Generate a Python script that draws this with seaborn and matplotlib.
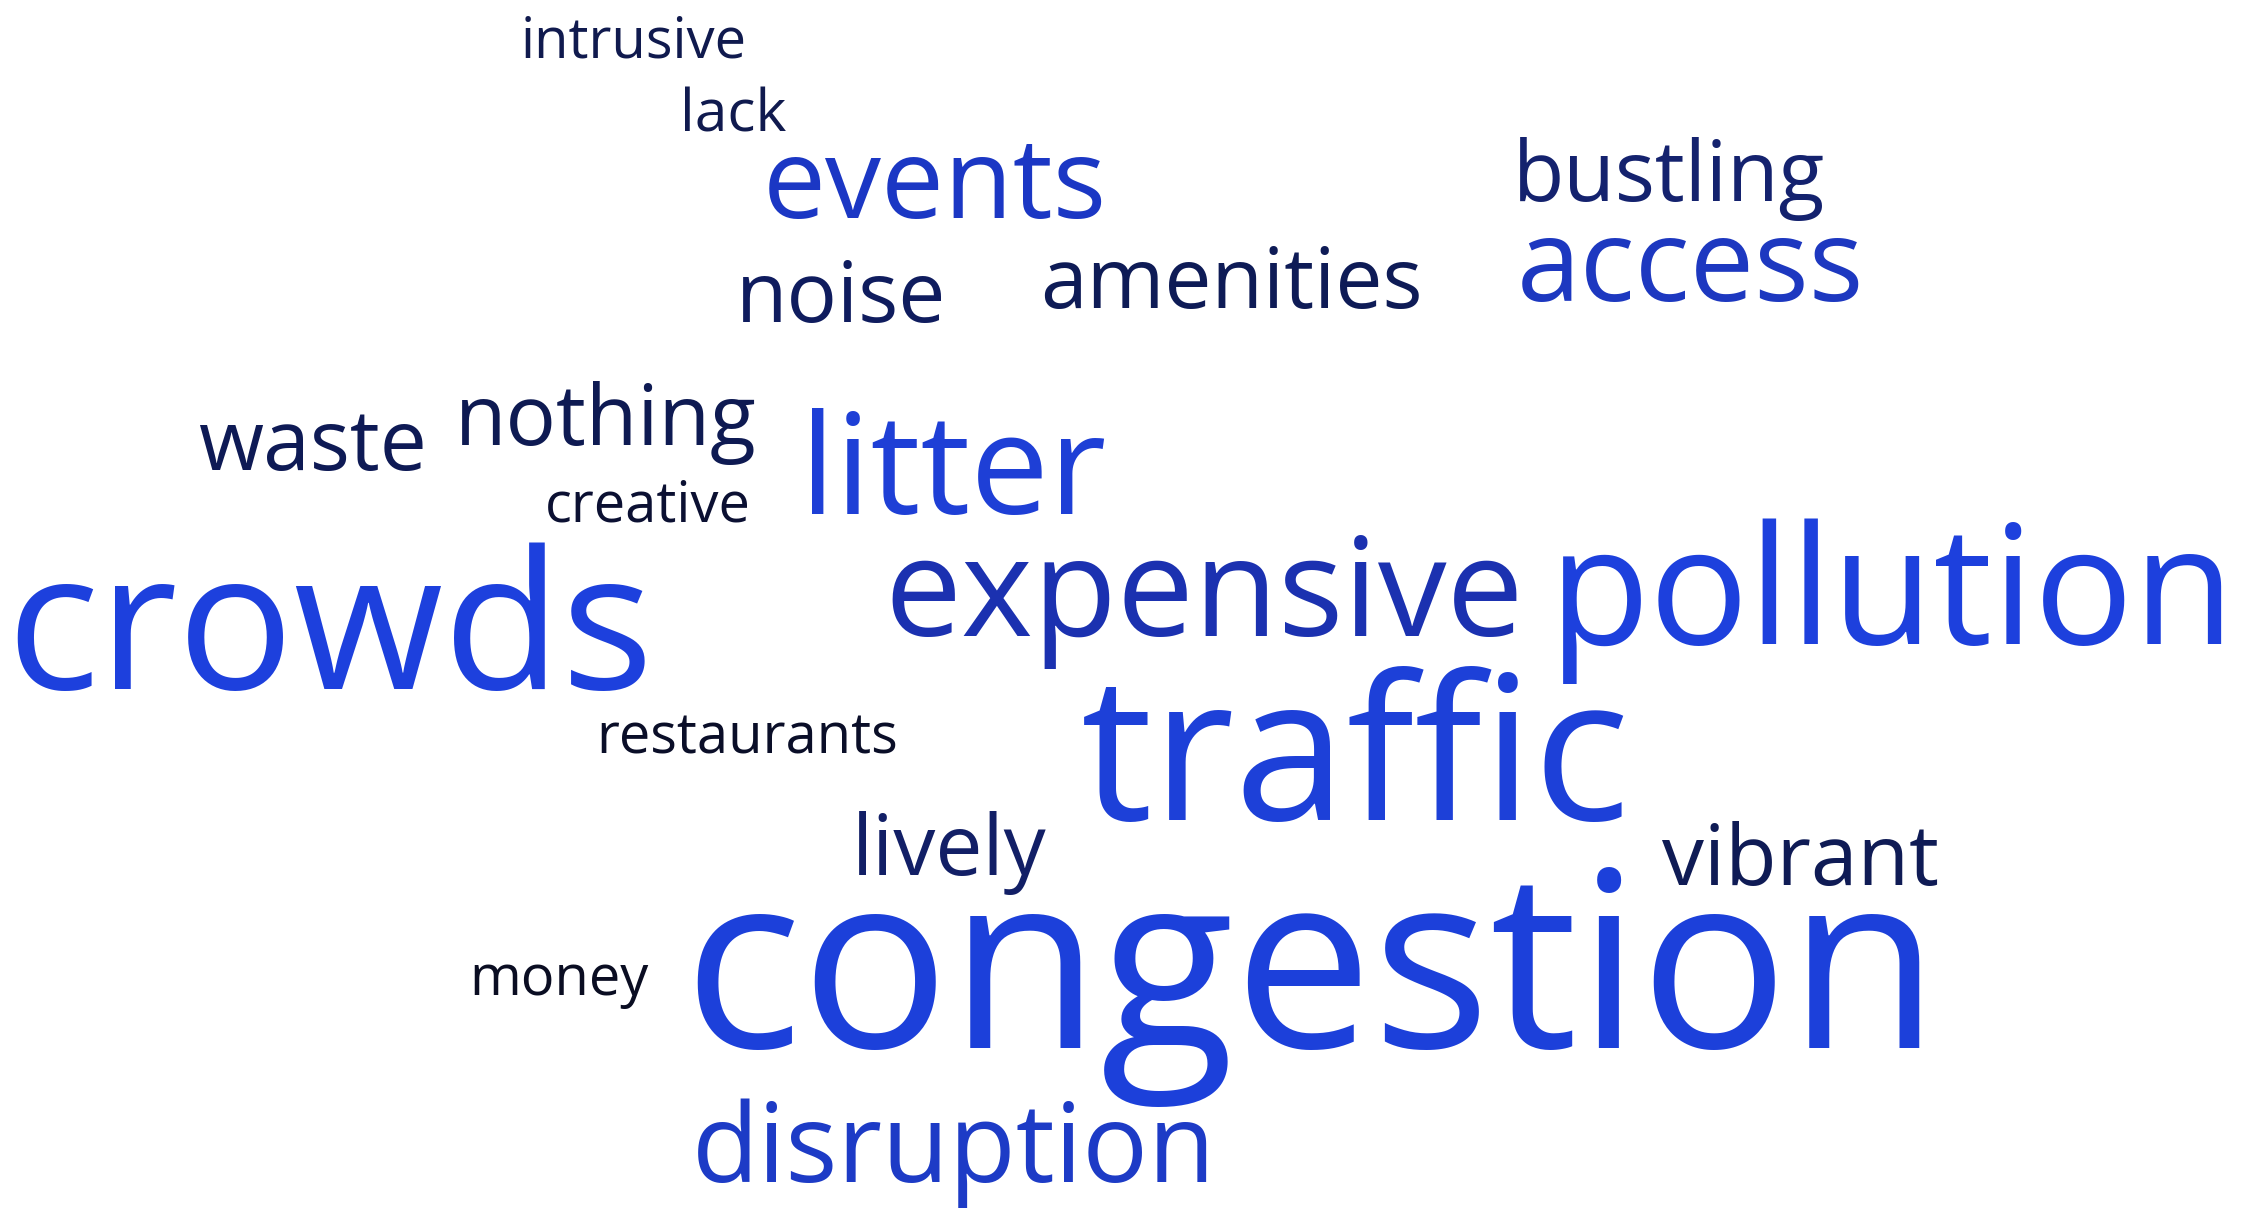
import matplotlib
matplotlib.use("Agg")
import matplotlib.pyplot as plt
import seaborn as sns

# ---- data: words and their (estimated) relative weights ----
words = ["intrusive", "lack", "events", "bustling", "access", "noise", "amenities",
         "waste", "nothing", "creative", "litter", "crowds", "expensive", "pollution",
         "restaurants", "traffic", "lively", "vibrant", "money", "congestion", "disruption"]
weights = [2.0, 2.1, 4.0, 3.0, 4.1, 3.0, 3.0,
           3.0, 3.0, 2.0, 5.0, 6.9, 4.9, 5.9,
           2.0, 7.2, 3.0, 3.0, 2.0, 8.8, 3.9]

# ---- layout (pixel coordinates: centre x, baseline y) ----
layout_x = [634, 733, 935, 1669, 1690, 841, 1231,
            312, 606, 648, 953, 330, 1204, 1892,
            747, 1356, 949, 1800, 559, 1311, 954]
layout_y = [57, 132, 218, 201, 301, 322, 308,
            470, 445, 521, 514, 689, 636, 644,
            754, 820, 875, 885, 995, 1048, 1182]
colors = ["#101a4e", "#101a4e", "#1b37c4", "#14226e", "#1d38c0", "#0f1c5e", "#0e1b56",
          "#0e1a55", "#0e1a52", "#0b1032", "#1e3fd6", "#1d40dd", "#1b31b0", "#1d40dd",
          "#0a0e28", "#1d40d8", "#121f66", "#0f1b55", "#0a0d22", "#1c40da", "#1d3bc6"]

W, H, DPI = 2247, 1210, 100
PX_PER_WEIGHT = 28.0

sns.set_theme(style="white")
plt.rcParams['font.family'] = ['Open Sans', 'DejaVu Sans']

fig = plt.figure(figsize=(W / DPI, H / DPI), dpi=DPI)
fig.patch.set_facecolor("white")
ax = fig.add_axes([0, 0, 1, 1])
ax.set_xlim(0, W)
ax.set_ylim(H, 0)
ax.axis("off")

for w, wt, x, y, c in zip(words, weights, layout_x, layout_y, colors):
    size_pt = wt * PX_PER_WEIGHT * 72.0 / DPI
    ax.text(x, y, w, fontsize=size_pt, color=c, ha="center", va="baseline")

fig.savefig("out.png", dpi=DPI, facecolor="white")
